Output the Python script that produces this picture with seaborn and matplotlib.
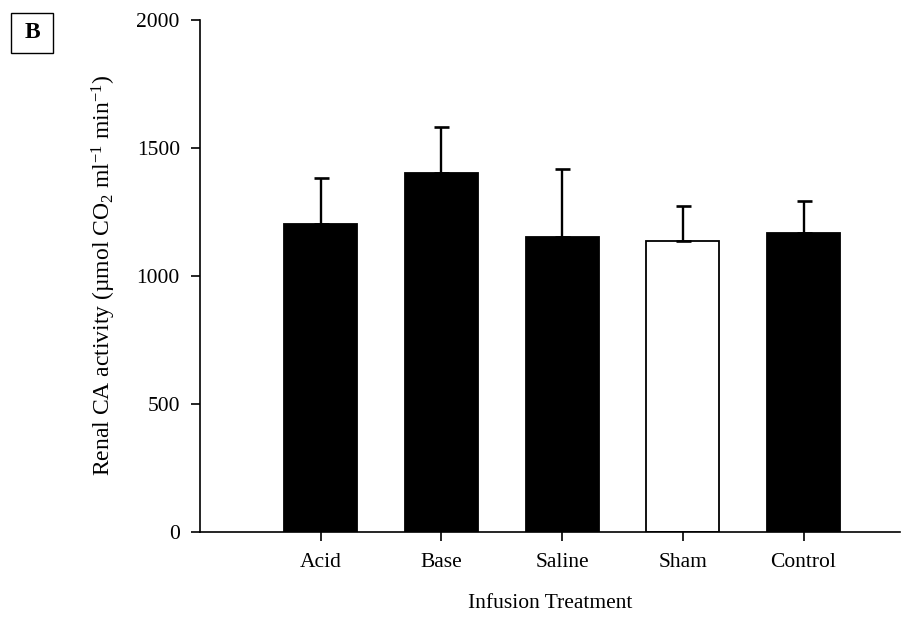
import matplotlib
matplotlib.use("Agg")
import matplotlib.pyplot as plt
from matplotlib.patches import Rectangle
import seaborn as sns
import pandas as pd
import numpy as np

# Renal carbonic anhydrase activity by infusion treatment (mean + SE)
treatments = ["Acid", "Base", "Saline", "Sham", "Control"]
activity = [1200, 1400, 1150, 1135, 1165]
activity_se = [180, 180, 265, 135, 125]
bar_colors = ["black", "black", "black", "white", "black"]
y_ticks = [0, 500, 1000, 1500, 2000]

sns.set_theme(style="ticks")
plt.rcParams["font.family"] = ["Liberation Serif", "DejaVu Serif"]
plt.rcParams["mathtext.default"] = "regular"

fig = plt.figure(figsize=(9.14, 6.2), dpi=100)
ax = fig.add_axes([0.2188, 0.1427, 0.7660, 0.8258])

df = pd.DataFrame({"Treatment": treatments, "Activity": activity})
sns.barplot(data=df, x="Treatment", y="Activity", hue="Treatment",
            palette=bar_colors, saturation=1, edgecolor="black",
            linewidth=1.3, width=0.606, legend=False, errorbar=None, ax=ax)

# upper-only error bars
ax.errorbar(np.arange(len(treatments)), activity,
            yerr=[np.zeros(len(activity_se)), activity_se],
            fmt="none", ecolor="black", elinewidth=1.7, capsize=5.4,
            capthick=1.9, zorder=3)

ax.set_xlim(-1.0, 4.8)
ax.set_ylim(0, 2000)
ax.set_yticks(y_ticks)
sns.despine(ax=ax)
for s in ("left", "bottom"):
    ax.spines[s].set_linewidth(1.2)
    ax.spines[s].set_color("black")

ax.tick_params(direction="out", length=6.5, width=1.2, labelsize=15.5,
               colors="black", pad=8)
ax.tick_params(axis="x", pad=9)

ax.set_xlabel("Infusion Treatment", fontsize=15.5, labelpad=16, color="black")
ax.set_ylabel(r"Renal CA activity (µmol CO$_2$ ml$^{-1}$ min$^{-1}$)",
              fontsize=17, labelpad=13, color="black")

# panel letter in a box
fig.patches.append(Rectangle((0.012, 0.9145), 0.046, 0.0645,
                             transform=fig.transFigure, fill=False,
                             edgecolor="black", linewidth=1.0))
fig.text(0.035, 0.9468, "B", fontsize=17, fontweight="bold",
         ha="center", va="center", color="black")

fig.savefig("out.png", dpi=100)
